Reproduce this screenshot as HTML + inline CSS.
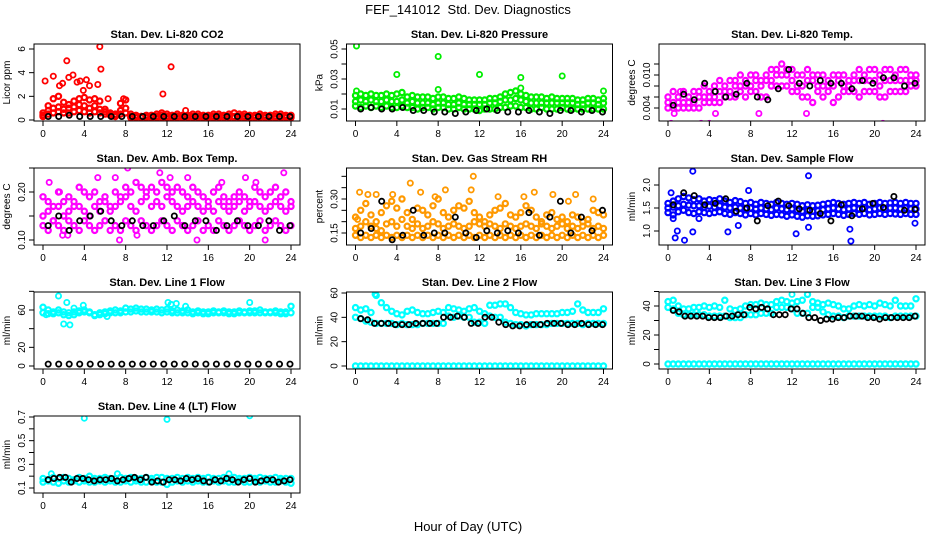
<!DOCTYPE html>
<html><head><meta charset="utf-8"><style>
body{margin:0;background:#fff}
svg{display:block;font-family:"Liberation Sans",Arial,sans-serif}
</style></head><body>
<svg id="c" width="936" height="540" viewBox="0 0 936 540">
<text x="468" y="14" text-anchor="middle" font-size="13">FEF_141012&#160; Std. Dev. Diagnostics</text>
<text x="468" y="531" text-anchor="middle" font-size="13">Hour of Day (UTC)</text>
</svg>
<script>
// ---- data ----
const hourTicks=[0,4,8,12,16,20,24];
const co2A=[0.6,1.2,1.8,2.0,1.5,1.3,1.6,1.8,1.9,1.7,1.8,1.6,0.9,0.6,0.5,1.4,1.7,0.5,0.4,0.3,0.4,0.4,0.5,0.6,0.5,0.4,0.5,0.4,0.4,0.5,0.5,0.4,0.4,0.5,0.5,0.4,0.5,0.6,0.5,0.5,0.4,0.4,0.5,0.4,0.4,0.5,0.5,0.4,0.4];
const co2B=[0.4,0.8,1.0,1.1,0.9,1.0,1.1,1.3,1.2,1.0,1.2,0.9,0.7,0.5,0.4,0.8,1.0,0.3,0.3,0.3,0.3,0.3,0.3,0.4,0.3,0.3,0.3,0.3,0.3,0.3,0.3,0.3,0.3,0.3,0.3,0.3,0.3,0.3,0.3,0.3,0.3,0.3,0.3,0.3,0.3,0.3,0.3,0.3,0.3];
const co2C=[0.3,0.5,0.6,0.7,0.6,0.6,0.7,0.8,0.7,0.6,0.7,0.6,0.5,0.4,0.3,0.5,0.6,0.2,0.2,0.2,0.2,0.2,0.2,0.2,0.2,0.2,0.2,0.2,0.2,0.2,0.2,0.2,0.2,0.2,0.2,0.2,0.2,0.2,0.2,0.2,0.2,0.2,0.2,0.2,0.2,0.2,0.2,0.2,0.2];
const co2OutX=[0.2,1,1.6,1.9,2.3,2.5,2.9,3.3,3.6,3.9,4.2,4.5,5.3,5.5,5.6,6.3,7.8,11.6,12.4,13.8];
const co2OutY=[3.3,3.7,2.9,3.1,5.0,3.6,3.8,3.2,3.3,2.5,3.4,2.9,3.0,6.2,4.3,1.8,1.8,2.2,4.5,0.8];
const co2K=[0.3,0.3,0.4,0.3,0.3,0.3,0.3,0.3,0.3,0.3,0.3,0.3,0.3,0.3,0.3,0.3,0.3,0.3,0.3,0.3,0.3,0.3,0.3,0.3];

const prsA=[0.019,0.020,0.019,0.020,0.019,0.019,0.020,0.019,0.020,0.021,0.018,0.019,0.018,0.018,0.018,0.017,0.018,0.018,0.017,0.017,0.018,0.017,0.016,0.016,0.016,0.016,0.017,0.017,0.018,0.020,0.021,0.022,0.020,0.019,0.018,0.018,0.018,0.017,0.018,0.017,0.017,0.017,0.017,0.016,0.016,0.017,0.017,0.016,0.017];
const prsB=[0.015,0.016,0.015,0.016,0.015,0.015,0.016,0.015,0.015,0.016,0.014,0.015,0.014,0.014,0.014,0.013,0.014,0.014,0.013,0.013,0.014,0.013,0.013,0.013,0.013,0.013,0.014,0.014,0.015,0.016,0.016,0.017,0.016,0.015,0.014,0.014,0.014,0.014,0.014,0.014,0.014,0.014,0.014,0.013,0.013,0.014,0.014,0.013,0.014];
const prsC=[0.012,0.011,0.012,0.011,0.012,0.011,0.012,0.011,0.011,0.012,0.011,0.011,0.010,0.011,0.011,0.010,0.011,0.011,0.010,0.010,0.011,0.010,0.010,0.010,0.009,0.010,0.010,0.010,0.011,0.011,0.012,0.012,0.011,0.011,0.010,0.010,0.011,0.010,0.010,0.010,0.011,0.010,0.010,0.010,0.010,0.010,0.010,0.010,0.010];
const prsOutX=[0.1,0.1,4,8,8,12,16,16,20,24];
const prsOutY=[0.052,0.022,0.033,0.045,0.023,0.033,0.031,0.024,0.032,0.022];
const prsK=[0.010,0.011,0.010,0.010,0.011,0.009,0.009,0.008,0.008,0.007,0.008,0.009,0.010,0.009,0.008,0.008,0.009,0.008,0.007,0.009,0.009,0.008,0.009,0.008];

const tmpA=[0.006,0.007,0.006,0.007,0.006,0.007,0.007,0.008,0.007,0.008,0.009,0.008,0.009,0.009,0.010,0.009,0.010,0.010,0.009,0.010,0.011,0.011,0.012,0.011,0.011,0.010,0.010,0.011,0.010,0.010,0.010,0.009,0.010,0.010,0.010,0.009,0.010,0.011,0.010,0.011,0.011,0.010,0.011,0.011,0.010,0.011,0.011,0.010,0.010];
const tmpB=[0.005,0.005,0.005,0.005,0.005,0.005,0.006,0.006,0.006,0.006,0.007,0.007,0.007,0.008,0.008,0.008,0.008,0.009,0.008,0.009,0.009,0.010,0.010,0.010,0.009,0.008,0.008,0.009,0.009,0.008,0.008,0.008,0.008,0.009,0.008,0.008,0.009,0.009,0.009,0.009,0.009,0.008,0.009,0.009,0.009,0.009,0.009,0.009,0.009];
const tmpC=[0.004,0.004,0.004,0.004,0.004,0.004,0.004,0.005,0.005,0.005,0.005,0.006,0.006,0.006,0.007,0.006,0.007,0.007,0.006,0.006,0.008,0.008,0.008,0.008,0.007,0.007,0.006,0.006,0.005,0.007,0.006,0.007,0.005,0.006,0.007,0.007,0.007,0.006,0.007,0.007,0.007,0.006,0.006,0.007,0.007,0.007,0.007,0.008,0.008];
const tmpOutX=[0.3,0.6,3.2,4.0,8.8,13.4,20.8,1.2,4.6];
const tmpOutY=[0.0012,0.003,0.0012,0.0012,0.003,0.003,0.0012,0.007,0.003];
const tmpK=[0.0045,0.0065,0.0055,0.0085,0.007,0.006,0.0065,0.0085,0.006,0.0055,0.0075,0.011,0.0085,0.008,0.009,0.0085,0.0085,0.0075,0.009,0.0085,0.0095,0.0095,0.008,0.0085];

const ambA=[0.19,0.18,0.17,0.20,0.18,0.19,0.17,0.21,0.20,0.19,0.20,0.18,0.19,0.17,0.20,0.19,0.21,0.20,0.22,0.21,0.20,0.21,0.20,0.22,0.21,0.20,0.21,0.20,0.19,0.21,0.20,0.19,0.18,0.20,0.21,0.19,0.18,0.19,0.20,0.19,0.18,0.21,0.20,0.19,0.20,0.21,0.19,0.20,0.18];
const ambB=[0.15,0.16,0.14,0.17,0.15,0.16,0.18,0.17,0.16,0.15,0.17,0.16,0.18,0.16,0.17,0.18,0.19,0.17,0.16,0.18,0.19,0.17,0.18,0.17,0.19,0.18,0.17,0.16,0.17,0.18,0.17,0.16,0.17,0.16,0.18,0.17,0.16,0.17,0.18,0.16,0.17,0.18,0.17,0.16,0.17,0.18,0.17,0.16,0.17];
const ambC=[0.13,0.12,0.14,0.13,0.12,0.14,0.13,0.12,0.14,0.13,0.12,0.13,0.14,0.12,0.13,0.12,0.14,0.13,0.12,0.14,0.13,0.12,0.13,0.14,0.13,0.12,0.14,0.13,0.12,0.13,0.14,0.12,0.13,0.12,0.14,0.13,0.12,0.13,0.14,0.13,0.12,0.13,0.14,0.12,0.13,0.14,0.13,0.12,0.13];
const ambOutX=[0.6,1.6,1.9,5.3,7.0,7.4,8.2,9.1,11.3,14.0,14.9,17.3,19.6,20.6,21.5,23.3,2.4,12.3];
const ambOutY=[0.22,0.20,0.11,0.23,0.23,0.10,0.25,0.11,0.24,0.23,0.10,0.22,0.23,0.22,0.10,0.24,0.11,0.23];
const ambK=[0.13,0.15,0.12,0.14,0.15,0.16,0.14,0.13,0.14,0.13,0.13,0.14,0.15,0.13,0.14,0.14,0.12,0.13,0.14,0.13,0.13,0.14,0.12,0.13];

const rhA=[0.22,0.25,0.28,0.23,0.20,0.24,0.27,0.29,0.26,0.30,0.24,0.21,0.26,0.25,0.23,0.27,0.30,0.24,0.22,0.25,0.27,0.26,0.29,0.24,0.22,0.20,0.23,0.25,0.26,0.28,0.23,0.22,0.24,0.27,0.25,0.22,0.20,0.23,0.24,0.21,0.22,0.20,0.23,0.22,0.20,0.21,0.25,0.24,0.23];
const rhB=[0.17,0.18,0.20,0.18,0.17,0.16,0.19,0.20,0.18,0.21,0.18,0.17,0.19,0.17,0.18,0.20,0.19,0.17,0.18,0.19,0.18,0.17,0.18,0.20,0.19,0.18,0.19,0.18,0.17,0.19,0.18,0.17,0.18,0.19,0.18,0.17,0.19,0.18,0.17,0.18,0.19,0.17,0.18,0.17,0.18,0.19,0.17,0.18,0.17];
const rhC=[0.14,0.13,0.14,0.13,0.14,0.13,0.14,0.13,0.14,0.13,0.14,0.13,0.14,0.13,0.14,0.13,0.14,0.13,0.14,0.13,0.14,0.13,0.14,0.13,0.14,0.13,0.14,0.13,0.14,0.13,0.14,0.13,0.14,0.13,0.14,0.13,0.14,0.13,0.14,0.13,0.14,0.13,0.14,0.13,0.14,0.13,0.14,0.13,0.14];
const rhOutX=[0.4,1.2,2.0,3.6,5.3,6.3,7.7,8.7,11.4,11.2,13.8,16.3,17.3,19.1,20.6,21.3,23.0,0.2];
const rhOutY=[0.33,0.32,0.32,0.32,0.37,0.33,0.31,0.34,0.40,0.34,0.31,0.31,0.33,0.32,0.29,0.32,0.30,0.21];
const rhK=[0.15,0.17,0.29,0.12,0.14,0.25,0.14,0.15,0.15,0.22,0.15,0.13,0.16,0.15,0.16,0.15,0.24,0.14,0.22,0.29,0.15,0.22,0.16,0.25];

const sfA=[1.60,1.65,1.70,1.75,1.72,1.68,1.70,1.65,1.68,1.66,1.70,1.65,1.62,1.66,1.64,1.60,1.62,1.58,1.62,1.60,1.58,1.62,1.60,1.58,1.60,1.58,1.55,1.57,1.55,1.56,1.58,1.60,1.62,1.60,1.58,1.60,1.62,1.60,1.62,1.58,1.60,1.62,1.60,1.61,1.62,1.60,1.62,1.60,1.60];
const sfB=[1.50,1.52,1.55,1.58,1.56,1.55,1.55,1.52,1.54,1.52,1.55,1.52,1.50,1.52,1.50,1.48,1.50,1.48,1.50,1.48,1.46,1.50,1.48,1.46,1.48,1.45,1.43,1.45,1.43,1.44,1.46,1.48,1.50,1.48,1.46,1.48,1.50,1.48,1.50,1.46,1.48,1.50,1.48,1.50,1.50,1.48,1.50,1.48,1.48];
const sfC=[1.40,1.35,1.42,1.45,1.40,1.38,1.42,1.40,1.38,1.40,1.42,1.38,1.36,1.40,1.38,1.35,1.38,1.35,1.38,1.36,1.34,1.36,1.35,1.32,1.35,1.32,1.30,1.33,1.32,1.33,1.35,1.36,1.38,1.36,1.34,1.36,1.38,1.36,1.38,1.35,1.36,1.38,1.36,1.38,1.37,1.36,1.38,1.36,1.36];
const sfOutX=[0.3,0.7,0.9,1.6,2.4,2.4,3.0,5.8,6.8,7.8,12.4,13.6,13.6,17.6,17.7,23.9,0.5];
const sfOutY=[1.83,0.85,1.00,0.80,2.30,0.98,1.27,0.98,1.12,1.88,0.94,1.08,2.20,1.04,0.78,1.17,1.27];
const sfK=[1.57,1.83,1.77,1.57,1.60,1.70,1.43,1.50,1.22,1.55,1.65,1.55,1.48,1.45,1.38,1.22,1.57,1.33,1.48,1.60,1.51,1.75,1.45,1.47];

const l1A=[63,60,58,60,58,57,58,59,60,58,55,57,58,59,60,59,62,61,62,61,61,60,61,60,61,59,60,59,60,58,59,58,58,59,58,59,58,58,59,58,59,59,60,58,58,59,58,58,64];
const l1B=[57,56,56,57,55,54,55,57,58,57,54,55,56,57,57,57,58,58,59,58,58,58,58,57,58,57,57,57,57,56,57,56,56,57,57,57,56,56,57,57,57,57,57,57,57,57,56,56,57];
const l1OutX=[0.3,1.5,2.0,2.3,2.6,3.0,3.9,12.1,12.4,12.9,13.8,20.0,6.2];
const l1OutY=[55,75,45,68,44,62,65,68,66,67,64,68,53];
const l1K=[2,2,2,2,2,2,2,2,2,2,2,2,2,2,2,2,2,2,2,2,2,2,2,2];
const l2A=[48,46,47,44,58,52,48,45,43,42,45,46,44,43,43,44,45,44,48,47,46,45,47,48,45,43,50,50,51,51,48,44,43,42,42,43,43,43,43,43,44,44,45,51,46,44,44,44,47];
const l2B=[40,39,37,36,35,35,35,35,34,35,34,34,34,35,35,35,35,35,41,40,41,40,40,36,36,35,41,40,40,36,35,34,34,33,34,34,34,34,35,35,35,35,35,35,34,35,35,35,35];
const l2Zero=[0,0,0,0,0,0,0,0,0,0,0,0,0,0,0,0,0,0,0,0,0,0,0,0,0,0,0,0,0,0,0,0,0,0,0,0,0,0,0,0,0,0,0,0,0,0,0,0,0];
const l2K=[39,38,35,35,35,34,34,34,35,35,35,35,40,40,41,40,35,35,40,40,36,34,33,33,34,34,34,35,35,35,34,34,35,34,34,34];
const l3A=[43,44,40,38,38,39,39,40,39,40,39,44,38,37,38,40,41,41,42,41,41,43,44,43,42,43,44,48,43,42,41,42,41,40,38,38,40,41,40,41,40,42,41,40,44,40,40,40,45];
const l3B=[39,38,35,34,34,34,34,34,33,33,33,33,32,32,32,34,34,34,35,35,35,39,39,39,38,35,35,35,39,39,36,34,33,33,32,33,33,33,33,33,33,33,33,32,33,33,33,33,33];
const l3Zero=[0,0,0,0,0,0,0,0,0,0,0,0,0,0,0,0,0,0,0,0,0,0,0,0,0,0,0,0,0,0,0,0,0,0,0,0,0,0,0,0,0,0,0,0,0,0,0,0,0];
const l3K=[37,36,33,33,33,33,32,32,32,33,33,34,34,39,38,39,38,34,34,34,38,38,35,32,32,30,31,31,32,32,33,33,33,32,32,31,32,32,32,32,32,33];
const l4A=[0.18,0.17,0.19,0.18,0.19,0.18,0.17,0.19,0.18,0.20,0.18,0.18,0.19,0.18,0.18,0.19,0.18,0.19,0.18,0.18,0.19,0.18,0.19,0.19,0.18,0.18,0.19,0.18,0.19,0.18,0.19,0.18,0.19,0.18,0.18,0.19,0.18,0.19,0.18,0.18,0.19,0.18,0.19,0.18,0.18,0.19,0.18,0.18,0.18];
const l4B=[0.15,0.16,0.15,0.14,0.16,0.15,0.16,0.15,0.16,0.15,0.15,0.16,0.15,0.16,0.15,0.15,0.16,0.15,0.16,0.15,0.15,0.16,0.15,0.15,0.13,0.15,0.16,0.15,0.16,0.15,0.16,0.15,0.15,0.16,0.15,0.16,0.15,0.15,0.16,0.15,0.15,0.16,0.15,0.16,0.15,0.15,0.16,0.15,0.14];
const l4OutX=[4,12,20,0.8,7.2,18];
const l4OutY=[0.69,0.68,0.71,0.22,0.22,0.22];
const l4K=[0.17,0.18,0.19,0.19,0.15,0.18,0.18,0.17,0.16,0.17,0.17,0.18,0.16,0.17,0.18,0.19,0.17,0.19,0.15,0.16,0.15,0.17,0.17,0.16,0.18,0.17,0.18,0.16,0.15,0.17,0.16,0.18,0.17,0.15,0.17,0.18,0.15,0.16,0.17,0.17,0.15,0.16,0.17];

// ---- layout ----
const NS='http://www.w3.org/2000/svg';
const svg=document.getElementById('c');
const COLX=[43,355.5,668], ROWY=[44,168,292,416];
const panels=[
 {id:'co2',c:0,r:0,title:'Stan. Dev. Li-820 CO2',yl:'Licor ppm',cal:[0,120,6,49],ticks:[0,2,4,6],labs:[0,2,4,6],col:'#ff0000',dec:0,ser:[co2A,co2B,co2C],ox:co2OutX,oy:co2OutY,k:co2K},
 {id:'pressure',c:1,r:0,title:'Stan. Dev. Li-820 Pressure',yl:'kPa',cal:[0.01,109,0.05,49],ticks:[0.01,0.02,0.03,0.04,0.05],labs:[0.01,0.03,0.05],col:'#00ee00',dec:2,ser:[prsA,prsB,prsC],ox:prsOutX,oy:prsOutY,k:prsK},
 {id:'li-temp',c:2,r:0,title:'Stan. Dev. Li-820 Temp.',yl:'degrees C',cal:[0.004,108,0.010,75],ticks:[0.004,0.006,0.008,0.010,0.012],labs:[0.004,0.010],col:'#ff00ff',dec:3,ser:[tmpA,tmpB,tmpC],ox:tmpOutX,oy:tmpOutY,k:tmpK},
 {id:'amb-temp',c:0,r:1,title:'Stan. Dev. Amb. Box Temp.',yl:'degrees C',cal:[0.10,240,0.20,192],ticks:[0.10,0.15,0.20,0.25],labs:[0.10,0.20],col:'#ff00ff',dec:2,ser:[ambA,ambB,ambC],ox:ambOutX,oy:ambOutY,k:ambK},
 {id:'rh',c:1,r:1,title:'Stan. Dev. Gas Stream RH',yl:'percent',cal:[0.15,233,0.30,199],ticks:[0.15,0.20,0.25,0.30,0.35,0.40],labs:[0.15,0.30],col:'#ff9900',dec:2,ser:[rhA,rhB,rhC],ox:rhOutX,oy:rhOutY,k:rhK},
 {id:'sample-flow',c:2,r:1,title:'Stan. Dev. Sample Flow',yl:'ml/min',cal:[1.0,231,2.0,185],ticks:[1.0,1.5,2.0],labs:[1.0,1.5,2.0],col:'#0000ff',dec:1,ser:[sfA,sfB,sfC],ox:sfOutX,oy:sfOutY,k:sfK},
 {id:'line1',c:0,r:2,title:'Stan. Dev. Line 1 Flow',yl:'ml/min',cal:[0,366,60,310],ticks:[0,20,40,60,80],labs:[0,20,60],col:'#00ffff',dec:0,ser:[l1A,l1B],ox:l1OutX,oy:l1OutY,k:l1K},
 {id:'line2',c:1,r:2,title:'Stan. Dev. Line 2 Flow',yl:'ml/min',cal:[0,366,60,293],ticks:[0,20,40,60],labs:[0,20,40,60],col:'#00ffff',dec:0,ser:[l2A,l2B,l2Zero],ox:[1.9],oy:[59],k:l2K},
 {id:'line3',c:2,r:2,title:'Stan. Dev. Line 3 Flow',yl:'ml/min',cal:[0,364,40,306],ticks:[0,10,20,30,40,50],labs:[0,20,40],col:'#00ffff',dec:0,ser:[l3A,l3B,l3Zero],ox:[12],oy:[48],k:l3K},
 {id:'line4',c:0,r:3,title:'Stan. Dev. Line 4 (LT) Flow',yl:'ml/min',cal:[0.1,488,0.7,417],ticks:[0.1,0.2,0.3,0.4,0.5,0.6,0.7],labs:[0.1,0.3,0.5,0.7],col:'#00ffff',dec:1,ser:[l4A,l4B],ox:l4OutX,oy:l4OutY,k:l4K}
];
function mk(tag,at,parent){const e=document.createElementNS(NS,tag);for(const k in at)e.setAttribute(k,at[k]);(parent||svg).appendChild(e);return e;}
panels.forEach(p=>{
 const g=mk('g',{});
 
 
 const x0=COLX[p.c], top=ROWY[p.r], L=x0-9, R=x0+257, B=top+77;
 const sx=v=>x0+v*248/24;
 const sy=v=>p.cal[1]+(v-p.cal[0])*(p.cal[3]-p.cal[1])/(p.cal[2]-p.cal[0]);
 const t=mk('text',{x:(L+R)/2,y:top-6,'text-anchor':'middle','font-size':11,'font-weight':'bold'},g);t.textContent=p.title;
 
 
 const clip=mk('clipPath',{id:'cl'+p.id},g);mk('rect',{x:L,y:top,width:R-L,height:B-top},clip);
 const pts=mk('g',{'clip-path':'url(#cl'+p.id+')',fill:'none'},g);
 const dot=(x,y,col,nm,w)=>{const c=mk('circle',{cx:sx(x).toFixed(1),cy:sy(y).toFixed(1),r:2.6,stroke:col,'stroke-width':w},pts);
  
  };
 p.ser.forEach((arr,si)=>arr.forEach((v,i)=>dot(i*24/(arr.length-1),v,p.col,p.id+'-point',2.2)));
 p.ox.forEach((x,i)=>dot(x,p.oy[i],p.col,p.id+'-outlier',1.8));
 p.k.forEach((v,i)=>dot(0.5+i*23.4/(p.k.length-1),v,'#000',p.id+'-black-point',1.8));
 const box=mk('rect',{x:L,y:top,width:R-L,height:B-top,fill:'none',stroke:'#000','stroke-width':1},g);
 
 
 mk('line',{x1:sx(0),x2:sx(24),y1:B,y2:B,stroke:'#000'},g);
 hourTicks.forEach(h=>{mk('line',{x1:sx(h),x2:sx(h),y1:B,y2:B+5,stroke:'#000'},g);
  const tl=mk('text',{x:sx(h),y:B+16,'text-anchor':'middle','font-size':10},g);tl.textContent=h;
  
  });
 const yt=p.ticks.filter(v=>sy(v)>=top-1&&sy(v)<=B+1);
 yt.forEach(v=>mk('line',{x1:L-5,x2:L,y1:sy(v),y2:sy(v),stroke:'#000'},g));
 mk('line',{x1:L,x2:L,y1:sy(yt[0]),y2:sy(yt[yt.length-1]),stroke:'#000'},g);
 p.labs.forEach(v=>{const y=sy(v);const tl=mk('text',{x:L-9,y:y,'text-anchor':'middle','font-size':10,transform:`rotate(-90 ${L-9} ${y})`},g);tl.textContent=v.toFixed(p.dec);
  
  });
 const yl=mk('text',{x:L-24,y:(top+B)/2,'text-anchor':'middle','font-size':10,transform:`rotate(-90 ${L-24} ${(top+B)/2})`},g);yl.textContent=p.yl;
 
 
});
</script>
</body></html>
